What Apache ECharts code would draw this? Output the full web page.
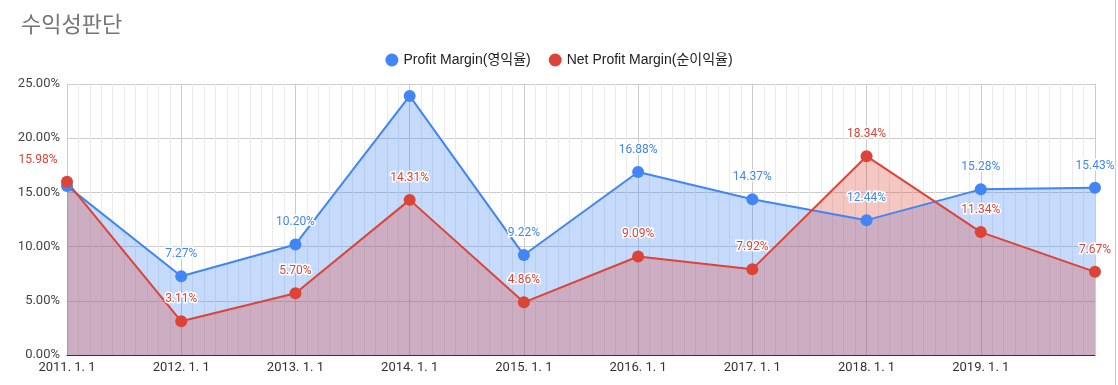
<!DOCTYPE html>
<html>
<head>
<meta charset="utf-8">
<script src="https://cdn.jsdelivr.net/npm/echarts@6/dist/echarts.min.js"></script>
<style>
html,body{margin:0;padding:0;background:#fff;}
#chart{width:1118px;height:385px;}
</style>
</head>
<body>
<div id="chart"></div>
<script>
// Data
var years = [2011, 2012, 2013, 2014, 2015, 2016, 2017, 2018, 2019, 2020];
var profitMargin = [15.6, 7.27, 10.20, 23.9, 9.22, 16.88, 14.37, 12.44, 15.28, 15.43];
var netProfitMargin = [15.98, 3.11, 5.70, 14.31, 4.86, 9.09, 7.92, 18.34, 11.34, 7.67];
var seriesNames = ['Profit Margin(영익율)', 'Net Profit Margin(순이익율)'];
var titleText = '수익성판단';

var FONT = 'Roboto, "Noto Sans CJK KR", sans-serif';
var LFONT = '"Liberation Sans", Arial, "Noto Sans CJK KR", sans-serif';
var BLUE = '#4285F4', RED = '#DB4437';

function pairs(vals, hidden, offsets) {
  return years.map(function (y, i) {
    var item = { value: [y, vals[i]] };
    if (hidden && hidden.indexOf(i) >= 0) item.label = { show: false };
    if (offsets && offsets[i]) item.label = { offset: offsets[i] };
    return item;
  });
}

var chart = echarts.init(document.getElementById('chart'), null, { renderer: 'canvas' });

function labelStyle(color) {
  return {
    show: true, position: 'top', distance: 10,
    color: color, fontFamily: FONT, fontSize: 12,
    textBorderColor: '#fff', textBorderWidth: 3,
    formatter: function (p) { return p.value[1].toFixed(2) + '%'; }
  };
}

chart.setOption({
  animation: false,
  title: {
    text: titleText, left: 16, top: 8,
    textStyle: { fontFamily: '"Noto Sans CJK KR", sans-serif', fontSize: 22, fontWeight: 'normal', color: '#757575' }
  },
  legend: {
    data: seriesNames, left: 'center', top: 48,
    icon: 'circle', itemWidth: 13, itemHeight: 13, itemGap: 18,
    textStyle: { fontFamily: LFONT, fontSize: 14, color: '#222' }
  },
  grid: { left: 67, right: 23, top: 84, bottom: 30, containLabel: false },
  xAxis: {
    type: 'value', min: 2011, max: 2020, interval: 1,
    axisLine: { show: true, lineStyle: { color: '#333', width: 1 } },
    axisTick: { show: false },
    axisLabel: {
      color: '#333', fontFamily: FONT, fontSize: 13, margin: 6,
      formatter: function (v) { return v === 2020 ? '' : v + '. 1. 1'; }
    },
    splitLine: { show: true, lineStyle: { color: '#ccc', width: 1 } },
    minorTick: { show: false, splitNumber: 10 },
    minorSplitLine: { show: true, lineStyle: { color: '#ebebeb', width: 1 } }
  },
  yAxis: {
    type: 'value', min: 0, max: 25, interval: 5,
    axisLine: { show: false }, axisTick: { show: false },
    axisLabel: {
      color: '#444', fontFamily: FONT, fontSize: 13, margin: 7,
      formatter: function (v) { return v.toFixed(2) + '%'; }
    },
    splitLine: { show: true, lineStyle: { color: '#ccc', width: 1 } }
  },
  graphic: [
    { type: 'line', shape: { x1: 1115.5, y1: 0, x2: 1115.5, y2: 385 }, style: { stroke: '#c8c8c8', lineWidth: 1 } }
  ],
  series: [
    {
      name: seriesNames[0], type: 'line',
      data: pairs(profitMargin, [0, 3]),
      symbol: 'circle', symbolSize: 12,
      itemStyle: { color: BLUE },
      lineStyle: { color: BLUE, width: 2 },
      areaStyle: { color: BLUE, opacity: 0.3 },
      label: labelStyle(BLUE)
    },
    {
      name: seriesNames[1], type: 'line',
      data: pairs(netProfitMargin, null, { 0: [-29, 0] }),
      symbol: 'circle', symbolSize: 12,
      itemStyle: { color: RED },
      lineStyle: { color: RED, width: 2 },
      areaStyle: { color: RED, opacity: 0.3 },
      label: labelStyle(RED)
    }
  ]
});
</script>
</body>
</html>
